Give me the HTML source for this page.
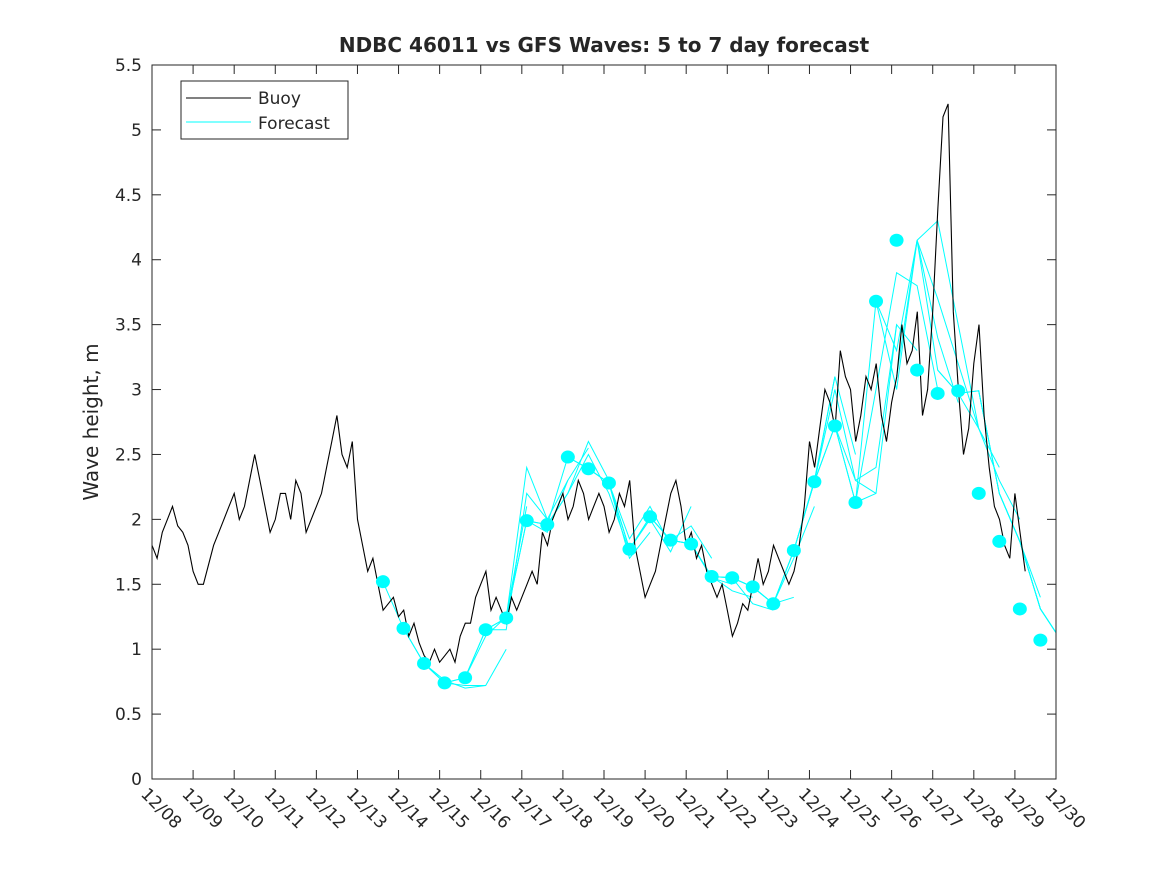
<!DOCTYPE html>
<html><head><meta charset="utf-8"><style>
body{margin:0;background:#fff;font-family:"Liberation Sans",sans-serif}
svg text{font-family:"DejaVu Sans","Liberation Sans",sans-serif;fill:#262626}
</style></head><body>
<svg id="c" width="1167" height="875" viewBox="0 0 1167 875">
<rect x="0" y="0" width="1167" height="875" fill="#fff"/>
<defs><clipPath id="clip"><rect x="152" y="65" width="904" height="714"/></clipPath></defs>
<g id="plot" clip-path="url(#clip)"></g>
<g id="axes"></g>
</svg>
<script>
const xTickLabels=["12/08","12/09","12/10","12/11","12/12","12/13","12/14","12/15","12/16","12/17","12/18","12/19","12/20","12/21","12/22","12/23","12/24","12/25","12/26","12/27","12/28","12/29","12/30"];
const yTicks=[0,0.5,1,1.5,2,2.5,3,3.5,4,4.5,5,5.5];
const buoyStep=0.125;
const buoy=[1.8,1.7,1.9,2.0,2.1,1.95,1.9,1.8,1.6,1.5,1.5,1.65,1.8,1.9,2.0,2.1,2.2,2.0,2.1,2.3,2.5,2.3,2.1,1.9,2.0,2.2,2.2,2.0,2.3,2.2,1.9,2.0,2.1,2.2,2.4,2.6,2.8,2.5,2.4,2.6,2.0,1.8,1.6,1.7,1.5,1.3,1.35,1.4,1.25,1.3,1.1,1.2,1.05,0.95,0.9,1.0,0.9,0.95,1.0,0.9,1.1,1.2,1.2,1.4,1.5,1.6,1.3,1.4,1.3,1.2,1.4,1.3,1.4,1.5,1.6,1.5,1.9,1.8,2.0,2.1,2.2,2.0,2.1,2.3,2.2,2.0,2.1,2.2,2.1,1.9,2.0,2.2,2.1,2.3,1.8,1.6,1.4,1.5,1.6,1.8,2.0,2.2,2.3,2.1,1.8,1.9,1.7,1.8,1.6,1.5,1.4,1.5,1.3,1.1,1.2,1.35,1.3,1.5,1.7,1.5,1.6,1.8,1.7,1.6,1.5,1.6,1.8,2.1,2.6,2.4,2.7,3.0,2.9,2.7,3.3,3.1,3.0,2.6,2.8,3.1,3.0,3.2,2.8,2.6,2.9,3.1,3.5,3.2,3.3,3.6,2.8,3.0,3.6,4.4,5.1,5.2,3.6,3.0,2.5,2.7,3.2,3.5,2.8,2.4,2.1,2.0,1.8,1.7,2.2,1.9,1.6];
const dotStart=5.62;
const dots=[1.52,1.16,0.89,0.74,0.78,1.15,1.24,1.99,1.96,2.48,2.39,2.28,1.77,2.02,1.84,1.81,1.56,1.55,1.48,1.35,1.76,2.29,2.72,2.13,3.68,4.15,3.15,2.97,2.99,2.20,1.83,1.31,1.07];
const runStarts=[5.62,6.12,6.62,7.12,7.62,8.12,8.62,9.12,9.62,10.12,10.62,11.12,11.62,12.12,12.62,13.12,13.62,14.12,14.62,15.12,15.62,16.12,16.62,17.12,17.62,18.12,18.62,19.12,19.62,20.12,20.62,21.12];
const runs=[
[1.52,1.16,0.89,0.74,0.72,0.72],[1.16,0.89,0.76,0.70,0.72,1.0],[0.89,0.74,0.78,1.10,1.25,2.1],[0.74,0.78,1.15,1.15,2.2,2.0],
[0.78,1.15,1.24,2.4,2.0,2.3],[1.15,1.24,1.99,1.9,2.3,2.55],[1.24,1.99,1.96,2.2,2.6,2.3],[1.99,1.96,2.2,2.5,2.2,1.75],
[1.96,2.48,2.39,2.28,1.7,1.9],[2.48,2.39,2.28,1.85,2.1,1.8],[2.39,2.28,1.77,2.0,1.75,2.1],[2.28,1.77,2.02,1.84,1.95,1.7],
[1.77,2.02,1.84,1.81,1.55,1.5],[2.02,1.84,1.81,1.56,1.45,1.4],[1.84,1.81,1.56,1.55,1.35,1.3],[1.81,1.56,1.55,1.48,1.35,1.4],
[1.56,1.55,1.48,1.35,1.7,2.1],[1.55,1.48,1.35,1.76,2.3,3.1],[1.48,1.35,1.76,2.29,3.1,2.5],[1.35,1.76,2.29,3.0,2.3,2.2],
[1.76,2.29,2.72,2.3,2.4,3.5],[2.29,2.72,2.13,2.2,3.5,3.3],[2.72,2.13,3.0,3.9,3.8,3.0],[2.13,3.68,3.3,4.15,3.4,2.9],
[3.68,3.0,4.15,4.3,3.5,2.7],[3.1,4.15,3.7,3.2,2.7,2.4],[4.15,3.15,2.97,2.7,2.3,2.0],[3.15,2.97,2.99,2.2,1.83,1.4],
[2.97,2.99,2.20,1.83,1.31,1.07],[2.99,2.20,1.83,1.31,1.07,0.95],[2.20,1.83,1.31,1.07,0.95,0.9],[1.83,1.31,1.07,0.95,0.9]];
const NS="http://www.w3.org/2000/svg";
const X0=152,X1=1056,Y0=779,Y1=65;
function xs(d){return X0+d*(X1-X0)/22;}
function ys(v){return Y0-v*(Y0-Y1)/5.5;}
function mk(t,a,p){const e=document.createElementNS(NS,t);for(const k in a)e.setAttribute(k,a[k]);p.appendChild(e);return e;}
const plot=document.getElementById('plot'),axes=document.getElementById('axes'),svg=document.getElementById('c');
runs.forEach((r,i)=>{
 const pts=r.map((v,j)=>xs(runStarts[i]+0.5*j).toFixed(1)+','+ys(v).toFixed(1)).join(' ');
 const l=mk('polyline',{points:pts,fill:'none',stroke:'#00ffff','stroke-width':'1'},plot);
 
 
});
const bp=buoy.map((v,i)=>xs(i*buoyStep).toFixed(1)+','+ys(v).toFixed(1)).join(' ');
const bl=mk('polyline',{points:bp,fill:'none',stroke:'#000','stroke-width':'1.1'},plot);


dots.forEach((v,i)=>{
 const c=mk('ellipse',{cx:xs(dotStart+0.5*i),cy:ys(v),rx:7,ry:6.5,fill:'#00ffff'},plot);
 
 
});
const box=mk('rect',{x:X0,y:Y1,width:X1-X0,height:Y0-Y1,fill:'none',stroke:'#262626','stroke-width':'1'},axes);


xTickLabels.forEach((t,i)=>{
 const x=xs(i);
 mk('line',{x1:x,y1:Y0,x2:x,y2:Y0-9,stroke:'#262626'},axes);
 mk('line',{x1:x,y1:Y1,x2:x,y2:Y1+9,stroke:'#262626'},axes);
 const tx=mk('text',{x:x-12,y:Y0+16,'font-size':'17',transform:`rotate(45 ${x-12} ${Y0+16})`},axes);
 tx.textContent=t;
 
 
});
yTicks.forEach(v=>{
 const y=ys(v);
 mk('line',{x1:X0,y1:y,x2:X0+9,y2:y,stroke:'#262626'},axes);
 mk('line',{x1:X1,y1:y,x2:X1-9,y2:y,stroke:'#262626'},axes);
 const tx=mk('text',{x:X0-10,y:y+6,'font-size':'17','text-anchor':'end'},axes);
 tx.textContent=String(v);
 
 
});
const tt=mk('text',{x:604,y:52,'font-size':'20','font-weight':'bold','text-anchor':'middle',fill:'#000'},svg);
tt.textContent='NDBC 46011 vs GFS Waves: 5 to 7 day forecast';


const yl=mk('text',{x:98,y:422,'font-size':'20','text-anchor':'middle',transform:'rotate(-90 98 422)'},svg);
yl.textContent='Wave height, m';


const lg=mk('g',{},svg);


mk('rect',{x:181,y:81,width:167,height:58,fill:'#fff',stroke:'#262626'},lg);
mk('line',{x1:186,y1:98,x2:251,y2:98,stroke:'#000'},lg);
const l1=mk('text',{x:258,y:104,'font-size':'17'},lg);l1.textContent='Buoy';


mk('line',{x1:186,y1:122,x2:251,y2:122,stroke:'#00ffff'},lg);
const l2=mk('text',{x:258,y:129,'font-size':'17'},lg);l2.textContent='Forecast';


</script>
</body></html>
